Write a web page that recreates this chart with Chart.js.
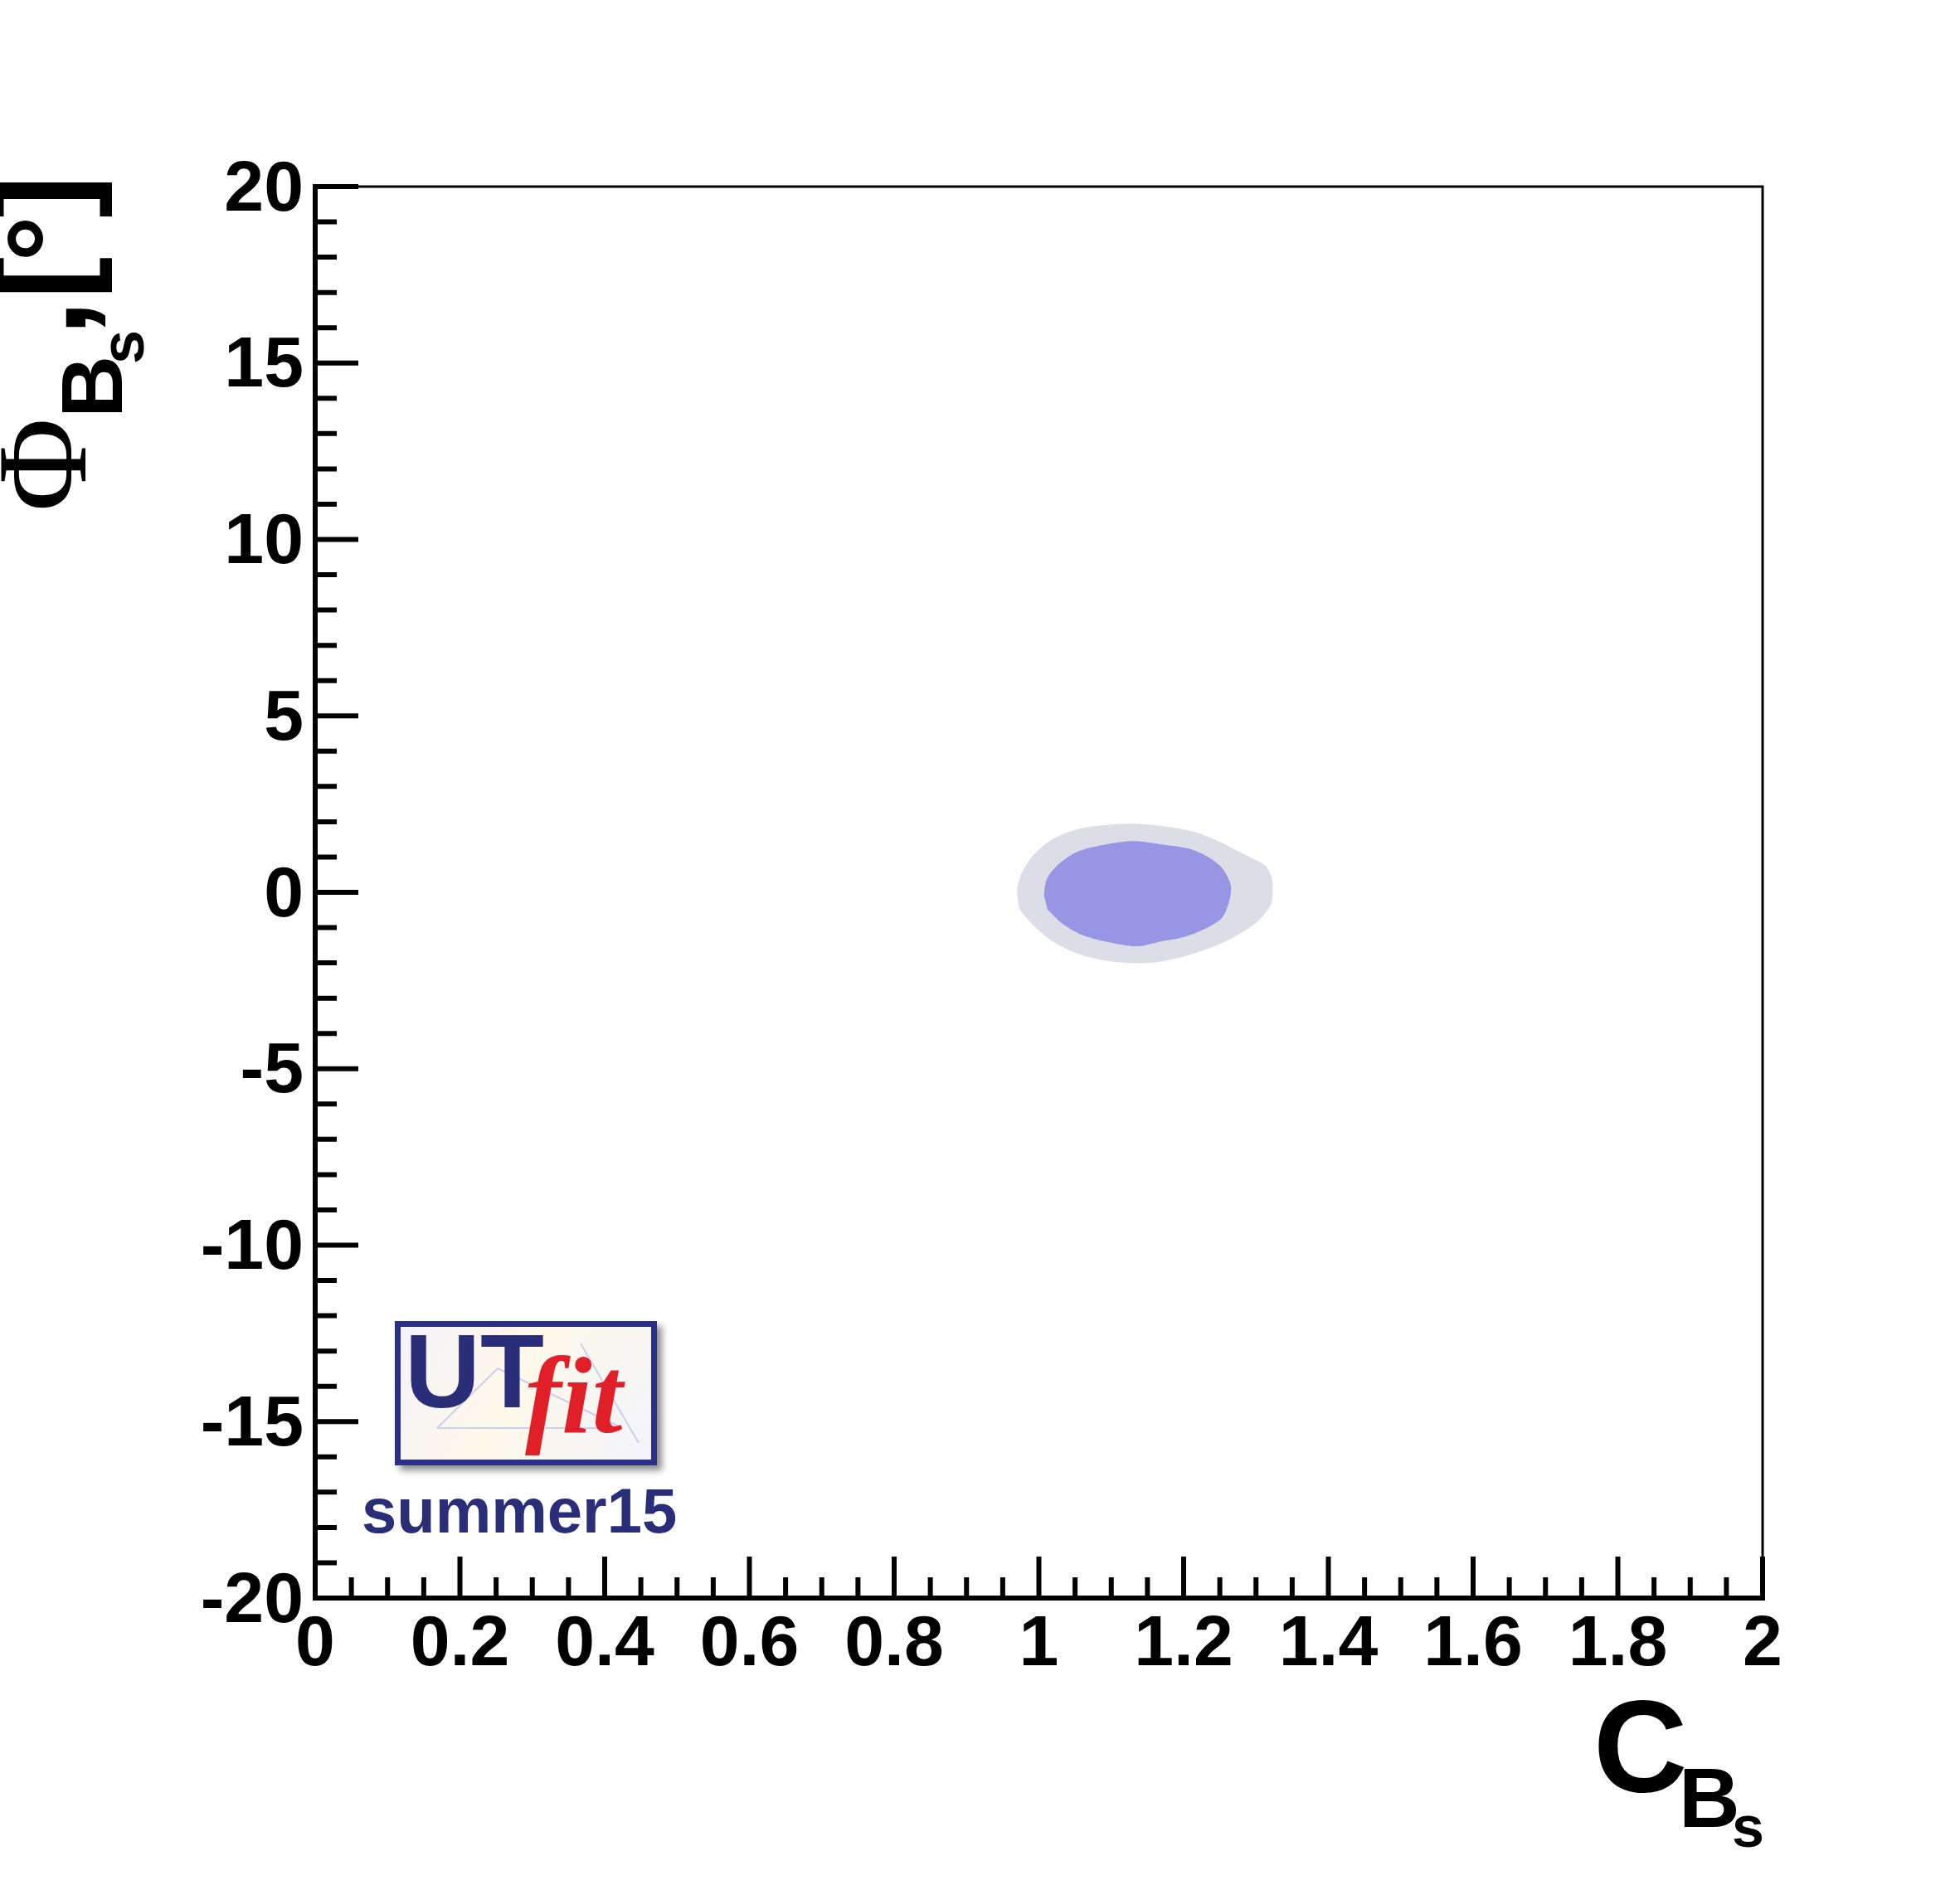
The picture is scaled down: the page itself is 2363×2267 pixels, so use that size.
<!DOCTYPE html>
<html>
<head>
<meta charset="utf-8">
<title>C_Bs vs Phi_Bs</title>
<script src="https://cdn.jsdelivr.net/npm/chart.js@4.4.0/dist/chart.umd.min.js"></script>
<style>
    html, body { margin: 0; padding: 0; background: #fff; }
    #wrap { width: 2363px; height: 2267px; }
</style>
</head>
<body>
<div id="wrap"><canvas id="contour" width="2363" height="2267"></canvas></div>
<script>
// tick marks / labels
const xTickValues = [0, 0.2, 0.4, 0.6, 0.8, 1, 1.2, 1.4, 1.6, 1.8, 2];
const xTickLabels = ['0', '0.2', '0.4', '0.6', '0.8', '1', '1.2', '1.4', '1.6', '1.8', '2'];
const yTickValues = [-20, -15, -10, -5, 0, 5, 10, 15, 20];
const yTickLabels = ['-20', '-15', '-10', '-5', '0', '5', '10', '15', '20'];

// 95% region (outer, grey)
const outerCB  = [0.970, 0.976, 0.990, 1.016, 1.054, 1.100, 1.139, 1.177, 1.215, 1.246, 1.272, 1.299, 1.314, 1.322,
                  1.322, 1.314, 1.299, 1.276, 1.246, 1.207, 1.169, 1.135, 1.093, 1.054, 1.016, 0.990, 0.974, 0.970];
const outerPhi = [0.14, 0.53, 1.00, 1.47, 1.79, 1.92, 1.94, 1.86, 1.71, 1.47, 1.20, 0.92, 0.73, 0.38,
                  -0.25, -0.56, -0.88, -1.19, -1.50, -1.78, -1.96, -2.01, -1.94, -1.74, -1.35, -0.88, -0.49, -0.09];

// 68% region (inner, blue)
const innerCB  = [1.007, 1.011, 1.028, 1.054, 1.093, 1.131, 1.169, 1.207, 1.234, 1.253, 1.265,
                  1.263, 1.253, 1.230, 1.200, 1.169, 1.135, 1.100, 1.062, 1.032, 1.012];
const innerPhi = [-0.09, 0.38, 0.81, 1.16, 1.36, 1.45, 1.36, 1.24, 1.00, 0.69, 0.22,
                  -0.25, -0.72, -1.03, -1.27, -1.39, -1.53, -1.43, -1.23, -0.88, -0.49];

const FONT = '"Liberation Sans", Arial, Helvetica, sans-serif';
const SERIF = '"Liberation Serif", "Times New Roman", serif';

function toPoints(xs, ys) {
    return xs.map((v, i) => ({x: v, y: ys[i]}));
}

function inkText(ctx, str, inkLeft, baseline) {
    const m = ctx.measureText(str);
    ctx.fillText(str, inkLeft + m.actualBoundingBoxLeft, baseline);
}

// text rotated -90deg, ink starting at screen y = inkBottom
function inkTextUp(ctx, str, inkBottom, baselineX) {
    const m = ctx.measureText(str);
    ctx.save();
    ctx.translate(baselineX, inkBottom);
    ctx.rotate(-Math.PI / 2);
    ctx.fillText(str, m.actualBoundingBoxLeft, 0);
    ctx.restore();
}

const rootFrame = {
    id: 'rootFrame',
    afterDatasetsDraw(chart) {
        const {ctx, chartArea: a, scales: {x, y}} = chart;
        ctx.save();
        ctx.strokeStyle = '#000';
        ctx.lineCap = 'butt';

        // thin top and right frame
        ctx.lineWidth = 3;
        ctx.beginPath();
        ctx.moveTo(a.left, a.top);
        ctx.lineTo(a.right, a.top);
        ctx.lineTo(a.right, a.bottom);
        ctx.stroke();

        // thick axes
        ctx.lineWidth = 6;
        ctx.lineCap = 'square';
        ctx.beginPath();
        ctx.moveTo(a.left, a.top);
        ctx.lineTo(a.left, a.bottom);
        ctx.lineTo(a.right, a.bottom);
        ctx.stroke();
        ctx.lineCap = 'butt';

        // x ticks (inside)
        ctx.beginPath();
        for (let i = 0; i <= 40; i++) {
            const v = i * 0.05;
            const px = x.getPixelForValue(v);
            const len = (i % 4 === 0) ? 50 : 25;
            ctx.moveTo(px, a.bottom);
            ctx.lineTo(px, a.bottom - len);
        }
        // y ticks
        for (let i = -20; i <= 20; i++) {
            const py = y.getPixelForValue(i);
            const len = (i % 5 === 0) ? 52 : 26;
            ctx.moveTo(a.left, py);
            ctx.lineTo(a.left + len, py);
        }
        ctx.stroke();
        ctx.restore();
    },
    afterDraw(chart) {
        const ctx = chart.ctx;
        ctx.save();
        ctx.fillStyle = '#000';
        ctx.textAlign = 'left';
        ctx.textBaseline = 'alphabetic';

        // x title C_{B_s}
        ctx.font = 'bold 157px ' + FONT;
        inkText(ctx, 'C', 1927, 2160);
        ctx.font = 'bold 102px ' + FONT;
        inkText(ctx, 'B', 2030, 2203);
        ctx.font = 'bold 70px ' + FONT;
        inkText(ctx, 's', 2090, 2227);

        // y title Phi_{B_s}, [deg]
        ctx.font = '155px ' + SERIF;
        inkTextUp(ctx, 'Φ', 613, 103);
        ctx.font = 'bold 104px ' + FONT;
        inkTextUp(ctx, 'B', 498, 147);
        ctx.font = 'bold 74px ' + FONT;
        inkTextUp(ctx, 's', 437, 173);
        ctx.font = 'bold 155px ' + FONT;
        inkTextUp(ctx, ',', 395, 103);
        inkTextUp(ctx, '[', 353, 103);
        ctx.font = 'bold 140px ' + FONT;
        inkTextUp(ctx, '°', 310, 106);
        ctx.font = 'bold 155px ' + FONT;
        inkTextUp(ctx, ']', 262, 103);

        drawLogo(ctx);
        ctx.restore();
    }
};

function drawLogo(ctx) {
    const bx = 476, by = 1593, bw = 316, bh = 174;
    ctx.save();
    // soft shadow
    ctx.shadowColor = 'rgba(0,0,0,0.45)';
    ctx.shadowBlur = 8;
    ctx.shadowOffsetX = 6;
    ctx.shadowOffsetY = 6;
    ctx.fillStyle = '#f6f4fb';
    ctx.fillRect(bx, by, bw, bh);
    ctx.restore();

    ctx.save();
    const g = ctx.createLinearGradient(bx, by, bx + bw, by + bh);
    g.addColorStop(0, '#f5f1fb');
    g.addColorStop(0.45, '#fdf9ea');
    g.addColorStop(1, '#f3f3fb');
    ctx.fillStyle = g;
    ctx.fillRect(bx, by, bw, bh);

    // faint sketch lines behind the letters
    ctx.strokeStyle = 'rgba(150,160,230,0.45)';
    ctx.lineWidth = 2;
    ctx.beginPath();
    ctx.moveTo(527, 1722); ctx.lineTo(750, 1722);
    ctx.moveTo(527, 1722); ctx.lineTo(600, 1650);
    ctx.moveTo(600, 1650); ctx.lineTo(750, 1722);
    ctx.moveTo(700, 1620); ctx.lineTo(770, 1740);
    ctx.stroke();

    ctx.lineWidth = 7;
    ctx.strokeStyle = '#2b2f86';
    ctx.strokeRect(bx + 3.5, by + 3.5, bw - 7, bh - 7);

    ctx.fillStyle = '#2a2d78';
    ctx.font = 'bold 126px ' + FONT;
    inkText(ctx, 'UT', 495, 1697);

    ctx.fillStyle = '#e11f28';
    ctx.font = 'italic bold 132px ' + SERIF;
    inkText(ctx, 'fit', 633, 1727);

    ctx.fillStyle = '#2a2e78';
    ctx.font = 'bold 76px ' + FONT;
    inkText(ctx, 'summer15', 438, 1848);
    ctx.restore();
}

function initChart() {
    const ctx = document.getElementById('contour').getContext('2d');

    new Chart(ctx, {
        type: 'scatter',
        data: {
            datasets: [{
                label: '68%',
                data: toPoints(innerCB, innerPhi),
                showLine: true,
                fill: 'shape',
                backgroundColor: 'rgb(151, 150, 229)',
                borderWidth: 0,
                pointRadius: 0,
                tension: 0.3
            }, {
                label: '95%',
                data: toPoints(outerCB, outerPhi),
                showLine: true,
                fill: 'shape',
                backgroundColor: 'rgb(221, 221, 231)',
                borderWidth: 0,
                pointRadius: 0,
                tension: 0.3
            }]
        },
        options: {
            responsive: false,
            animation: false,
            layout: { padding: { top: 225, right: 238, left: 0, bottom: 0 } },
            plugins: {
                legend: { display: false },
                tooltip: { enabled: false }
            },
            scales: {
                x: {
                    type: 'linear',
                    min: 0,
                    max: 2,
                    grid: { display: false, drawTicks: false },
                    border: { display: false },
                    afterBuildTicks: scale => { scale.ticks = xTickValues.map(v => ({value: v})); },
                    afterFit: scale => { scale.height = 340; },
                    ticks: {
                        autoSkip: false,
                        maxRotation: 0,
                        padding: 6,
                        color: '#000',
                        font: { family: FONT, weight: 'bold', size: 86 },
                        callback: (v, i) => xTickLabels[i]
                    }
                },
                y: {
                    type: 'linear',
                    min: -20,
                    max: 20,
                    grid: { display: false, drawTicks: false },
                    border: { display: false },
                    afterBuildTicks: scale => { scale.ticks = yTickValues.map(v => ({value: v})); },
                    afterFit: scale => { scale.width = 380; },
                    ticks: {
                        autoSkip: false,
                        padding: 14,
                        labelOffset: 5,
                        color: '#000',
                        font: { family: FONT, weight: 'bold', size: 86 },
                        callback: (v, i) => yTickLabels[i]
                    }
                }
            }
        },
        plugins: [rootFrame]
    });
}

initChart();
</script>
</body>
</html>
